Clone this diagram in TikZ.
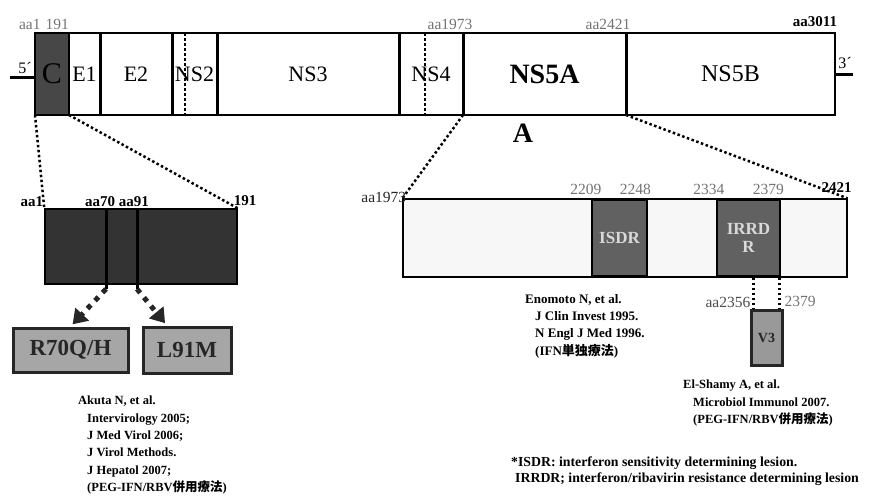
\documentclass[tikz,border=0pt]{standalone}
\usepackage{fontspec}
\setmainfont{Liberation Serif}
\newfontfamily\cjk{Noto Sans CJK JP}
\usetikzlibrary{positioning,arrows.meta,calc}

\begin{document}
\begin{tikzpicture}[
    x=1pt, y=-1pt,
    seg/.style={draw, line width=1.3pt, inner sep=0pt, outer sep=0pt,
                minimum height=82, font=\fontsize{22}{22}\selectfont},
    cseg/.style={seg, fill=black!72, line width=2.5pt,
                 font=\fontsize{30}{30}\selectfont},
    divider/.style={line width=3pt},
    strand/.style={line width=3pt},
    dotline/.style={line width=2.5pt, dash pattern=on 2.5pt off 2.5pt},
    num/.style={inner sep=0pt, text=black!55, font=\fontsize{15.5}{15.5}\selectfont},
    numb/.style={num, text=black, font=\bfseries\fontsize{15}{15}\selectfont},
    mutbox/.style={draw=black!85, line width=3pt, fill=black!35, inner sep=0pt,
                   text=black!85, font=\bfseries\fontsize{23}{23}\selectfont},
    regbox/.style={draw, line width=2.5pt, fill=black!62, inner sep=0pt,
                   minimum height=77, align=center, text=black!15,
                   font=\bfseries\fontsize{17}{18}\selectfont},
    hop/.style={-{Triangle[length=14pt,width=18pt]}, line width=5pt,
                dash pattern=on 5pt off 6pt, black!85, shorten >=3pt},
    refs/.style={anchor=north west, align=left, inner sep=0pt,
                 font=\bfseries\fontsize{12.5}{17.3}\selectfont},
  ]
  \useasboundingbox (0,0) rectangle (874,498);

  % --- genome ---
  \node[cseg, minimum width=34, anchor=west] (cbox) at (35,74) {C};
  \node[seg, minimum width=31,  right=0pt of cbox] (e1)  {E1};
  \node[seg, minimum width=72,  right=0pt of e1]   (e2)  {E2};
  \node[seg, minimum width=45,  right=0pt of e2]   (ns2) {NS2};
  \node[seg, minimum width=182, right=0pt of ns2]  (ns3) {NS3};
  \node[seg, minimum width=64,  right=0pt of ns3]  (ns4) {NS4};
  \node[seg, minimum width=163, right=0pt of ns4,
        font=\bfseries\fontsize{28}{28}\selectfont] (ns5a) {NS5A};
  \node[seg, minimum width=209, right=0pt of ns5a,
        font=\fontsize{24}{24}\selectfont] (ns5b) {NS5B};
  \foreach \n in {e2,ns2,ns3,ns4,ns5a,ns5b}
    \draw[divider] (\n.north west) -- (\n.south west);
  \draw[dotline] ($(ns2.north west)+(13,0)$) -- ($(ns2.south west)+(13,0)$);
  \draw[dotline] ($(ns4.north west)+(26,0)$) -- ($(ns4.south west)+(26,0)$);

  \coordinate (end5) at (10,77);
  \coordinate (end3) at (853,74);
  \draw[strand] (end5) -- (end5 -| cbox.west);
  \draw[strand] (end3 -| ns5b.east) -- (end3);
  \node[font=\fontsize{16}{16}\selectfont] (p5) at (25,68) {5´};
  \node[font=\fontsize{16}{16}\selectfont] (p3) at (845,63) {3´};

  \node[num] (l191)  at (44,24)  {aa1\,\,191};
  \node[num] (l1973) at (450,24) {aa1973};
  \node[num] (l2421) at (608,24) {aa2421};
  \node[numb] (l3011) at (815,22) {aa3011};
  \node[font=\bfseries\fontsize{28}{28}\selectfont] (alab) at (523,133) {A};

  % --- core ---
  \node[draw, line width=1.5pt, fill=black!80, minimum width=192,
        minimum height=75, inner sep=0pt] (corebox) at (141,246.5) {};
  \coordinate (m70) at (106,289);
  \coordinate (m91) at (137,289);
  \draw[divider] (m70 |- corebox.north) -- (m70);
  \draw[divider] (m91 |- corebox.north) -- (m91);
  \draw[dotline] (cbox.south west) -- (corebox.north west);
  \draw[dotline] (cbox.south east) -- (corebox.north east);
  \node[numb, anchor=south east] (caa1) at ($(corebox.north west)+(-1,-1)$) {aa1};
  \node[numb, anchor=south] (caa70) at (117,207) {aa70 aa91};
  \node[numb, anchor=south west] (c191) at ($(corebox.north east)+(-4,-2)$) {191};

  \node[mutbox, minimum width=115, minimum height=44] (r70) at (70.5,350) {R70Q/H};
  \node[mutbox, minimum width=88, minimum height=46, right=12pt of r70] (l91) {L91M};
  \draw[hop] (m70) -- (r70.north);
  \draw[hop] (m91) -- ($(l91.north west)!0.28!(l91.north east)$);

  \node[refs] (akuta) at (78,396) {Akuta N, et al.\\
    \hspace*{9pt}Intervirology 2005;\\
    \hspace*{9pt}J Med Virol 2006;\\
    \hspace*{9pt}J Virol Methods.\\
    \hspace*{9pt}J Hepatol 2007;\\
    \hspace*{9pt}(PEG-IFN/RBV{\cjk 併用療法})};

  % --- NS5A ---
  \node[draw, line width=1.3pt, fill=black!3, minimum width=444,
        minimum height=78, inner sep=0pt] (nsbox) at (625,238) {};
  \node[regbox, minimum width=55] (isdr)  at (619.5,238) {ISDR};
  \node[regbox, minimum width=63] (irrdr) at (748.5,238) {IRRD\\R};
  \draw[dotline] (ns5a.south west) -- (nsbox.north west);
  \draw[dotline] (ns5a.south east) -- (nsbox.north east);
  \node[num, text=black!85, anchor=east] (n1973) at ($(nsbox.north west)+(4,-1)$) {aa1973};
  \node[num] (n2209) at ($(isdr.north west)+(-5,-9)$)  {2209};
  \node[num] (n2248) at ($(isdr.north east)+(-13,-9)$) {2248};
  \node[num] (n2334) at ($(irrdr.north west)+(-7,-9)$) {2334};
  \node[num] (n2379) at ($(irrdr.north east)+(-13,-9)$) {2379};
  \node[numb] (n2421) at ($(nsbox.north east)+(-11,-11)$) {2421};

  \node[mutbox, minimum width=31, minimum height=55, fill=black!40,
        font=\bfseries\fontsize{14}{14}\selectfont] (v3) at (766.5,337.5) {V3};
  \coordinate (v3l) at ($(v3.north west)+(4,0)$);
  \coordinate (v3r) at ($(v3.north east)+(-4,0)$);
  \draw[dotline] (irrdr.south -| v3l) -- (v3l);
  \draw[dotline] (irrdr.south -| v3r) -- (v3r);
  \node[num, text=black!70, anchor=east] (v3a) at ($(v3.north west)+(1,-6)$) {aa2356};
  \node[num, anchor=west] (v3b) at ($(v3.north east)+(1,-7)$) {2379};

  \node[refs, font=\bfseries\fontsize{13}{17.3}\selectfont] (enomoto) at (525,294)
    {Enomoto N, et al.\\
    \hspace*{10pt}J Clin Invest 1995.\\
    \hspace*{10pt}N Engl J Med 1996.\\
    \hspace*{10pt}(IFN{\cjk 単独療法})};
  \node[refs] (elshamy) at (683,380) {El-Shamy A, et al.\\
    \hspace*{10pt}Microbiol Immunol 2007.\\
    \hspace*{10pt}(PEG-IFN/RBV{\cjk 併用療法})};

  \node[refs, font=\bfseries\fontsize{13.8}{16}\selectfont] (foot) at (511,457)
    {*ISDR: interferon sensitivity determining lesion.\\
     \hspace*{4pt}IRRDR; interferon/ribavirin resistance determining lesion};
\end{tikzpicture}
\end{document}
